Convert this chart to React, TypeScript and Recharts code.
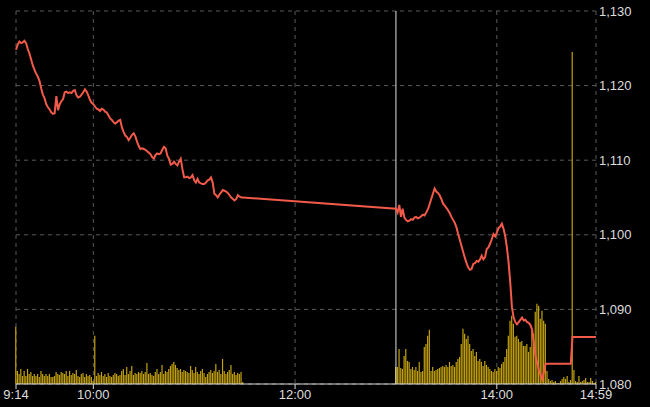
import {
  ComposedChart,
  Line,
  Bar,
  XAxis,
  YAxis,
  CartesianGrid,
  ReferenceLine,
} from "recharts";

// minutes since midnight
const morningStart = 554; // 9:14
const afternoonStart = 780; // 13:00

const morningPrice = [
  1124.8, 1125.5, 1125.9, 1125.7, 1125.8, 1126.0, 1125.7, 1124.9, 1124.3, 1123.5,
  1122.7, 1122.1, 1121.6, 1121.2, 1120.6, 1119.6, 1118.8, 1118.3, 1117.5, 1117.1,
  1116.8, 1116.4, 1116.2, 1116.3, 1118.6, 1116.7, 1117.5, 1117.9, 1118.2, 1119.1,
  1119.2, 1119.0, 1119.1, 1119.0, 1119.3, 1119.4, 1118.7, 1118.4, 1118.5, 1118.8,
  1119.1, 1119.5, 1119.2, 1118.7, 1118.1, 1117.7, 1117.5, 1117.2, 1116.9, 1116.8,
  1116.6, 1116.9, 1116.8, 1116.5, 1116.4, 1116.0, 1115.6, 1115.4, 1115.1, 1114.9,
  1115.1, 1115.3, 1115.4, 1114.4, 1113.8, 1113.3, 1113.1, 1112.7, 1113.0, 1113.4,
  1113.6, 1113.2, 1112.5, 1111.9, 1111.5, 1111.6, 1111.5, 1111.4, 1111.2, 1111.0,
  1110.8, 1110.4, 1110.2, 1110.7, 1110.9, 1110.8, 1110.9, 1111.4, 1111.8, 1111.6,
  1110.6, 1110.2, 1109.4, 1109.5, 1109.8, 1109.5, 1109.3, 1109.8, 1110.2, 1108.8,
  1107.7, 1107.7, 1107.8, 1107.6, 1107.7, 1108.0, 1107.3, 1107.0, 1107.5, 1107.0,
  1106.9, 1106.8, 1106.8, 1107.0, 1107.3, 1107.4, 1107.7, 1107.0, 1105.5, 1105.3,
  1105.0, 1105.4, 1105.7, 1106.0, 1105.9, 1105.8, 1105.6, 1105.3, 1105.0, 1104.8,
  1104.6, 1104.8, 1105.3, 1105.1, 1105.0, 1105.0,
];

const afternoonPrice = [
  1103.5, 1103.0, 1104.0, 1102.4, 1103.5, 1102.3, 1102.0, 1101.8, 1101.9, 1102.1,
  1102.0, 1102.3, 1102.4, 1102.2, 1102.3, 1102.5, 1102.7, 1102.6, 1103.0, 1103.4,
  1104.1, 1104.8, 1105.5, 1106.2, 1105.8, 1105.6, 1105.3, 1104.8, 1104.2, 1103.9,
  1103.6, 1103.3, 1102.9, 1102.4, 1102.0, 1101.6, 1101.0, 1100.1, 1099.3, 1098.5,
  1097.7, 1096.9, 1096.2, 1095.6, 1095.3, 1095.4, 1096.1, 1096.2, 1096.5, 1096.4,
  1096.7, 1097.2, 1096.7, 1097.0, 1098.1, 1098.3, 1098.8, 1099.4, 1100.1, 1099.8,
  1100.3, 1100.9, 1101.1, 1101.5, 1100.8, 1099.8, 1098.3, 1096.3, 1093.6, 1090.3,
  1088.9, 1088.3, 1088.0, 1088.3, 1088.6, 1088.9, 1088.5, 1088.6, 1088.3, 1088.2,
  1087.9, 1087.3, 1085.6, 1083.8, 1082.8, 1081.9, 1081.2, 1080.6, 1081.6, 1082.7,
  1082.7, 1082.7, 1082.7, 1082.7, 1082.7, 1082.7, 1082.7, 1082.7, 1082.7, 1082.7,
  1082.7, 1082.7, 1082.7, 1082.7, 1082.7, 1086.3, 1086.3, 1086.3, 1086.3, 1086.3,
  1086.3, 1086.3, 1086.3, 1086.3, 1086.3, 1086.3, 1086.3, 1086.3, 1086.3, 1086.3,
];

// volume, thousand shares
const morningVolume = [
  57, 13, 10, 15, 8, 13, 8, 15, 10, 12,
  8, 10, 8, 10, 7, 13, 10, 8, 10, 8,
  10, 7, 7, 8, 12, 10, 9, 12, 11, 10,
  13, 8, 13, 9, 11, 10, 14, 8, 7, 10,
  11, 7, 10, 8, 9, 7, 3, 48, 8, 11,
  9, 12, 8, 10, 7, 11, 8, 7, 9, 11,
  10, 8, 9, 13, 15, 9, 17, 10, 13, 18,
  9, 11, 10, 12, 11, 13, 10, 12, 21, 10,
  11, 9, 8, 12, 15, 10, 12, 19, 10, 13,
  12, 15, 18, 20, 22, 19, 16, 14, 15, 12,
  14, 13, 12, 11, 18, 14, 11, 17, 12, 10,
  13, 15, 11, 7, 10, 12, 14, 11, 13, 20,
  12, 14, 10, 25, 13, 10, 12, 14, 19, 10,
  12, 9, 11, 10, 12, 2,
];

const afternoonVolume = [
  17, 17, 35, 16, 15, 28, 35, 23, 22, 15,
  17, 14, 17, 13, 22, 12, 13, 37, 40, 48,
  54, 13, 17, 13, 14, 15, 16, 17, 18, 17,
  19, 17, 22, 18, 19, 17, 22, 25, 27, 40,
  55, 50, 45, 48, 40, 33, 35, 28, 32, 23,
  25, 22, 18, 23, 19, 17, 15, 13, 12, 15,
  13, 17, 16, 20, 22, 27, 35, 48, 63, 68,
  60, 47, 48, 45, 42, 43, 38, 38, 40, 32,
  37, 53, 50, 72, 80, 78, 65, 73, 63, 60,
  13, 5, 3, 4, 2, 3, 1, 1, 3, 5,
  7, 5, 8, 2, 4, 331, 14, 3, 2, 8,
  2, 3, 4, 6, 2, 2, 6, 3, 1, 2,
];

const timeTicks = [554, 600, 720, 840, 899];
const priceTicks = [1080, 1090, 1100, 1110, 1120, 1130];

const data = [
  ...morningPrice.map((p, i) => ({
    t: morningStart + i,
    price: p,
    vol: morningVolume[i],
  })),
  ...afternoonPrice.map((p, i) => ({
    t: afternoonStart + i,
    price: p,
    vol: afternoonVolume[i],
  })),
];

const fmtTime = (m: number) =>
  `${Math.floor(m / 60)}:${String(m % 60).padStart(2, "0")}`;

const tickStyle = {
  fill: "#dddddd",
  fontSize: 13,
  fontFamily: "Arial, 'Liberation Sans', sans-serif",
};

export default function App() {
  return (
    <div
      style={{
        position: "absolute",
        left: 0,
        top: 0,
        width: 650,
        height: 407,
        background: "#000",
      }}
    >
      <ComposedChart
        width={650}
        height={407}
        data={data}
        margin={{ top: 11, right: 0, bottom: 0, left: 16 }}
      >
        <CartesianGrid stroke="#5a5a5a" strokeDasharray="4 4" />
        <XAxis
          dataKey="t"
          type="number"
          domain={[554, 899]}
          ticks={timeTicks}
          tickFormatter={fmtTime}
          height={23}
          tick={tickStyle}
          tickSize={5}
          tickMargin={1}
          axisLine={{ stroke: "#dddddd" }}
          tickLine={{ stroke: "#dddddd" }}
          interval={0}
        />
        <YAxis
          orientation="right"
          domain={[1080, 1130]}
          ticks={priceTicks}
          tickFormatter={(v: number) => v.toLocaleString("en-US")}
          width={54}
          tick={tickStyle}
          axisLine={false}
          tickLine={false}
          tickSize={2}
          tickMargin={1}
          allowDataOverflow
        />
        <YAxis yAxisId="vol" hide domain={[0, 372]} />
        <Bar
          dataKey="vol"
          yAxisId="vol"
          fill="#c4a20c"
          barSize={1.2}
          isAnimationActive={false}
        />
        <ReferenceLine x={780} stroke="#e0e0e0" strokeWidth={1} />
        <Line
          type="linear"
          dataKey="price"
          stroke="#f25a4a"
          strokeWidth={2}
          dot={false}
          isAnimationActive={false}
        />
      </ComposedChart>
    </div>
  );
}
